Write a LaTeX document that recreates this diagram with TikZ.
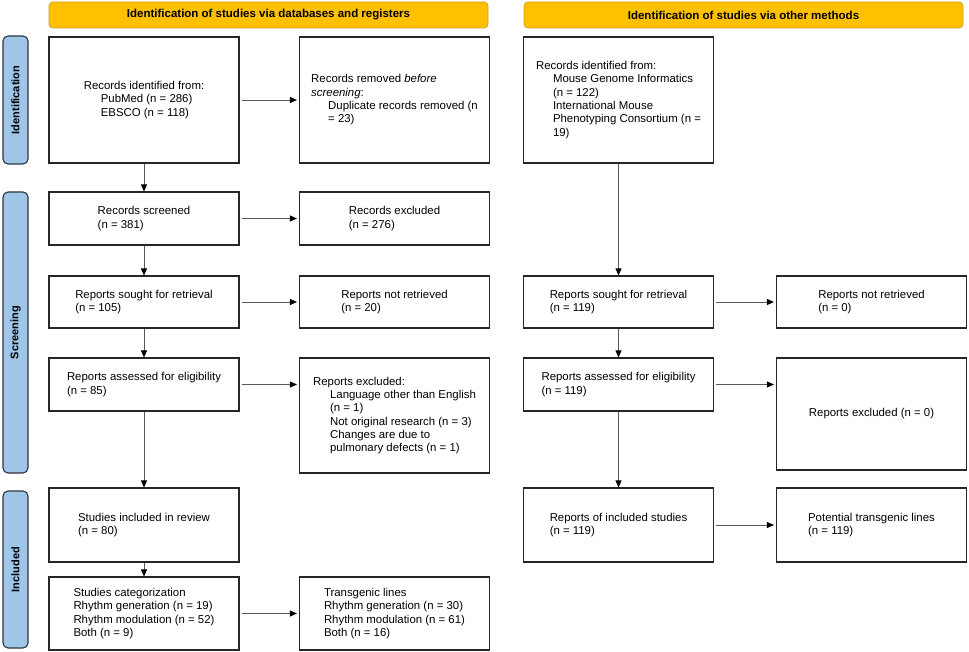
\documentclass[tikz,border=0pt]{standalone}
\usepackage{fontspec}
\setmainfont{Liberation Sans}
\usetikzlibrary{arrows.meta}
\definecolor{headgold}{HTML}{FFC000}
\definecolor{headedge}{HTML}{D4A017}
\definecolor{sideblue}{HTML}{9FC5E8}
\definecolor{sideedge}{HTML}{2E3440}

\begin{document}
\begin{tikzpicture}[x=1pt, y=-1pt,
  font=\fontsize{11.4}{13.3}\selectfont,
  box/.style={draw=black!85, line width=1.1pt, align=left, inner sep=0pt, minimum width=190pt},
  head/.style={draw=headedge, fill=headgold, rounded corners=4pt, line width=0.8pt, minimum width=439pt, minimum height=26pt, font=\fontsize{11.5}{13}\selectfont\bfseries},
  side/.style={draw=sideedge, fill=sideblue, rounded corners=5pt, line width=1.1pt, minimum width=25pt, inner sep=0pt, font=\fontsize{11}{13}\selectfont\bfseries},
  flow/.style={draw=black!65, line width=0.8pt, -{Triangle[length=7pt, width=6pt, black]}}
]
\useasboundingbox (0,0) rectangle (969,652);

\node[head](hdb) at (268.5,15) {Identification of studies via databases and registers};
\node[head](hot) at (743.5,15) {Identification of studies via other methods};

\node[side, minimum height=128pt](sid) at (15.5,100) {\rotatebox{90}{Identification}};
\node[side, minimum height=281pt](sscr) at (15.5,332.5) {\rotatebox{90}{Screening}};
\node[side, minimum height=157pt](sinc) at (15.5,569.5) {\rotatebox{90}{Included}};

% databases and registers
\node[box, minimum height=126pt](ident) at (144,100) {Records identified from:\\\hspace*{17pt}PubMed (n = 286)\\\hspace*{17pt}EBSCO (n = 118)};
\node[box, minimum height=126pt](removed) at (394.5,100) {Records removed \emph{before}\\\emph{screening}:\\\hspace*{17pt}Duplicate records removed (n\\\hspace*{17pt}= 23)};
\node[box, minimum height=53pt](screened) at (144,218.5) {Records screened\\(n = 381)};
\node[box, minimum height=53pt](excluded) at (394.5,218.5) {Records excluded\\(n = 276)};
\node[box, minimum height=52pt](sought) at (144,302) {Reports sought for retrieval\\(n = 105)};
\node[box, minimum height=52pt](notret) at (394.5,302) {Reports not retrieved\\(n = 20)};
\node[box, minimum height=53pt](assessed) at (144,384.5) {Reports assessed for eligibility\\(n = 85)};
\node[box, minimum height=115pt](repexcl) at (394.5,415.5) {Reports excluded:\\\hspace*{17pt}Language other than English\\\hspace*{17pt}(n = 1)\\\hspace*{17pt}Not original research (n = 3)\\\hspace*{17pt}Changes are due to\\\hspace*{17pt}pulmonary defects (n = 1)};
\node[box, minimum height=74pt](included) at (144,525) {Studies included in review\\(n = 80)};
\node[box, minimum height=73pt](categ) at (144,613.5) {Studies categorization\\Rhythm generation (n = 19)\\Rhythm modulation (n = 52)\\Both (n = 9)};
\node[box, minimum height=73pt](transg) at (394.5,613.5) {Transgenic lines\\Rhythm generation (n = 30)\\Rhythm modulation (n = 61)\\Both (n = 16)};

% other methods
\node[box, minimum height=126pt](oident) at (618.5,100) {Records identified from:\\\hspace*{17pt}Mouse Genome Informatics\\\hspace*{17pt}(n = 122)\\\hspace*{17pt}International Mouse\\\hspace*{17pt}Phenotyping Consortium (n =\\\hspace*{17pt}19)};
\node[box, minimum height=52pt](osought) at (618.5,302) {Reports sought for retrieval\\(n = 119)};
\node[box, minimum height=52pt](onotret) at (871.5,302) {Reports not retrieved\\(n = 0)};
\node[box, minimum height=53pt](oassessed) at (618.5,384.5) {Reports assessed for eligibility\\(n = 119)};
\node[box, minimum height=112pt](oexcl) at (871.5,414) {Reports excluded (n = 0)};
\node[box, minimum height=74pt](oincluded) at (618.5,525) {Reports of included studies\\(n = 119)};
\node[box, minimum height=74pt](opotential) at (871.5,525) {Potential transgenic lines\\(n = 119)};

\draw[flow] (ident) -- (screened);
\draw[flow] (screened) -- (sought);
\draw[flow] (sought) -- (assessed);
\draw[flow] (assessed) -- (included);
\draw[flow] (included) -- (categ);
\draw[flow] (oident) -- (osought);
\draw[flow] (osought) -- (oassessed);
\draw[flow] (oassessed) -- (oincluded);

\draw[flow, shorten <=2pt, shorten >=2pt] (ident) -- (removed);
\draw[flow, shorten <=2pt, shorten >=2pt] (screened) -- (excluded);
\draw[flow, shorten <=2pt, shorten >=2pt] (sought) -- (notret);
\draw[flow, shorten <=2pt, shorten >=2pt] (assessed.east) -- (repexcl.west |- assessed.east);
\draw[flow, shorten <=2pt, shorten >=2pt] (categ) -- (transg);
\draw[flow, shorten <=2pt, shorten >=2pt] (osought) -- (onotret);
\draw[flow, shorten <=2pt, shorten >=2pt] (oassessed.east) -- (oexcl.west |- oassessed.east);
\draw[flow, shorten <=2pt, shorten >=2pt] (oincluded) -- (opotential);
\end{tikzpicture}
\end{document}
